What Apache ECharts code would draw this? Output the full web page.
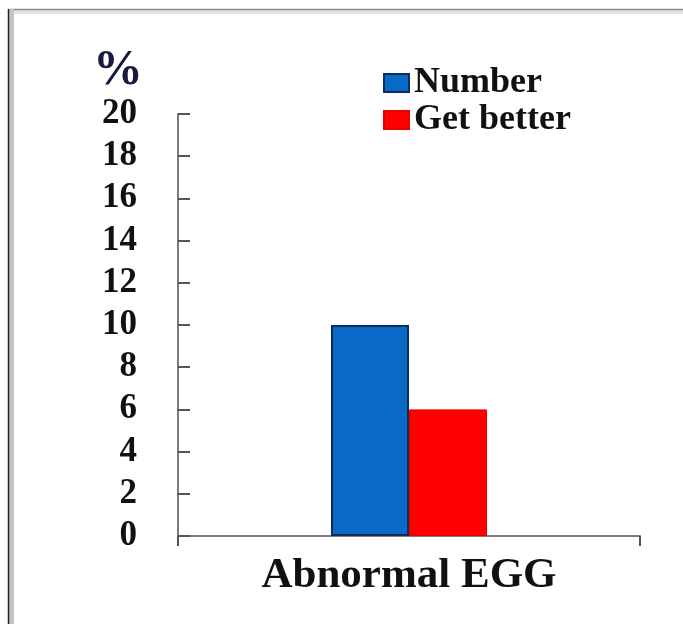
<!DOCTYPE html>
<html>
<head>
<meta charset="utf-8">
<style>
  html, body { margin: 0; padding: 0; background: #fff; }
  #chart { width: 683px; height: 624px; }
</style>
<script src="https://cdn.jsdelivr.net/npm/echarts@6/dist/echarts.min.js"></script>
</head>
<body>
<div id="chart"></div>
<script>
// Chart data
const categories = ['Abnormal EGG'];
const seriesNames = ['Number', 'Get better'];
const numberValues = [10];
const getBetterValues = [6];
const yTicks = { min: 0, max: 20, step: 2 };

const serif = '"Liberation Serif", "Times New Roman", serif';
const chart = echarts.init(document.getElementById('chart'), null, { renderer: 'canvas' });

chart.setOption({
  backgroundColor: '#ffffff',
  animation: false,
  grid: { left: 178, right: 43, top: 114, bottom: 88, containLabel: false },
  legend: {
    orient: 'vertical',
    left: 378,
    top: 60,
    itemWidth: 25,
    itemHeight: 18,
    itemGap: 1,
    icon: 'rect',
    textStyle: { fontFamily: serif, fontWeight: 'bold', fontSize: 36, color: '#111', lineHeight: 34 },
    data: seriesNames
  },
  xAxis: {
    type: 'category',
    data: categories,
    axisLine: { lineStyle: { color: '#7a7a7a', width: 2 } },
    axisTick: { show: true, inside: false, length: 10, lineStyle: { color: '#555', width: 2 } },
    axisLabel: { margin: 18, fontFamily: serif, fontWeight: 'bold', fontSize: 43, color: '#111' }
  },
  yAxis: {
    type: 'value',
    min: yTicks.min,
    max: yTicks.max,
    interval: yTicks.step,
    name: '%',
    nameLocation: 'end',
    nameGap: 18,
    nameTextStyle: {
      fontFamily: serif, fontWeight: 'bold', fontSize: 50, color: '#1a1a40',
      align: 'right', padding: [0, 35, 0, 0]
    },
    splitLine: { show: false },
    axisLine: { show: true, lineStyle: { color: '#7a7a7a', width: 2 } },
    axisTick: { show: true, inside: true, length: 12, lineStyle: { color: '#555', width: 2 } },
    axisLabel: { margin: 41, fontFamily: serif, fontWeight: 'bold', fontSize: 35, color: '#111' }
  },
  series: [
    {
      name: seriesNames[0],
      type: 'bar',
      data: numberValues,
      barWidth: 78,
      barGap: '0%',
      itemStyle: { color: '#0a68c6', borderColor: '#0c2c5a', borderWidth: 2 }
    },
    {
      name: seriesNames[1],
      type: 'bar',
      data: getBetterValues,
      barWidth: 78,
      barGap: '0%',
      itemStyle: { color: '#ff0000', borderColor: '#e00000', borderWidth: 1 }
    }
  ],
  graphic: [
    // frame edges along the top and left
    { type: 'rect', shape: { x: 9, y: 9, width: 674, height: 5 }, style: { fill: '#e4e4e4' }, silent: true },
    { type: 'line', shape: { x1: 8, y1: 9.5, x2: 683, y2: 9.5 }, style: { stroke: '#8a8a8a', lineWidth: 1.5 }, silent: true },
    { type: 'rect', shape: { x: 9, y: 9, width: 5, height: 615 }, style: { fill: '#c4c4c4' }, silent: true },
    { type: 'line', shape: { x1: 8.5, y1: 9, x2: 8.5, y2: 624 }, style: { stroke: '#222', lineWidth: 1.5 }, silent: true }
  ]
});
</script>
</body>
</html>
